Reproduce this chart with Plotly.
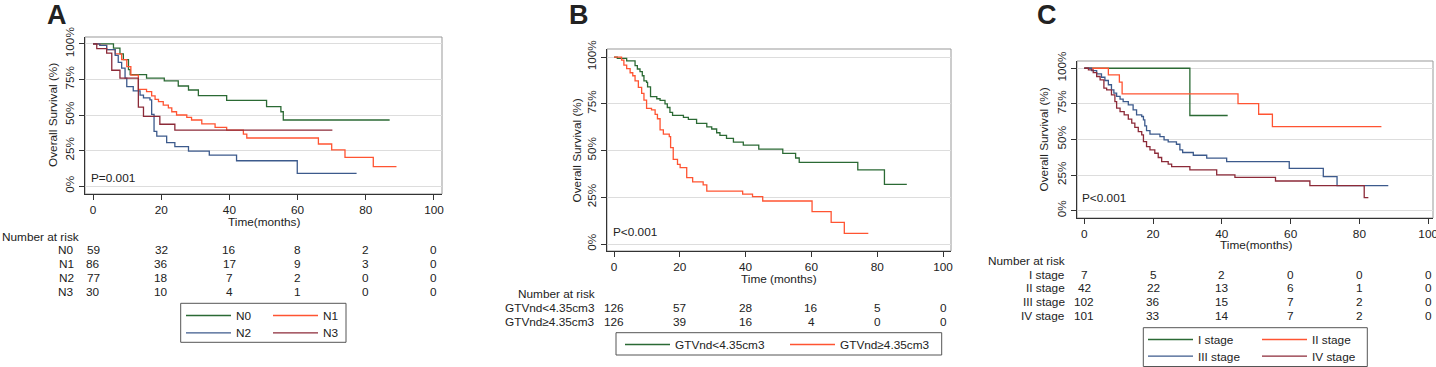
import plotly.graph_objects as go

W, H = 1436, 367
def fx(px): return px / W
def fy(py): return 1 - py / H

FONT = "Arial, Liberation Sans, sans-serif"
TXT = "#222222"
FS = 11.8
GREEN = "#2b6a34"
ORANGE = "#ff5432"
BLUE = "#3c5a8c"
DARKRED = "#8c2a38"

# ---------------- Panel A data (N stage) ----------------
A_names = ["N0", "N1", "N2", "N3"]
A_N0_t = [0, 6, 7.9, 8.9, 10.4, 10.9, 15.7, 20.9, 25, 28, 30.9, 39.2, 50.9, 55.1, 55.8, 87]
A_N0_s = [100, 97, 93, 89, 82, 78.4, 76, 74, 70.4, 67.6, 63.6, 60.3, 55.9, 52.3, 46.5, 46.5]
A_N1_t = [0, 2, 4, 6.5, 8.4, 9.9, 11.1, 13.3, 15.7, 17.2, 18.2, 19.2, 20.6, 22.1, 23.1, 24.5, 27.5,
          28.9, 31.9, 35.8, 39.2, 44.1, 45.1, 66.1, 70, 73.9, 82.2, 89]
A_N1_s = [100, 99, 96, 93, 89, 84, 78, 68, 66.4, 63.4, 61, 59.4, 57, 55, 52.3, 50, 48.4,
          46.5, 43.7, 41.3, 39.4, 36.6, 33.8, 29.6, 25.4, 20.2, 13.6, 13.6]
A_N2_t = [0, 2, 4, 6.5, 7.4, 8.4, 9.4, 9.9, 11.8, 13.8, 14.8, 16.7, 17.2, 17.9, 18.7, 21.6, 24, 28,
          34.1, 42.1, 59.9, 77.3]
A_N2_s = [100, 99, 96, 92, 87, 83, 76, 70, 67, 64, 62, 60.6, 50.5, 38.5, 35.2, 30.5, 27.7, 24.6,
          21.8, 17.8, 8.9, 8.9]
A_N3_t = [0, 1.1, 4, 5.5, 7.9, 13.3, 14.8, 19.6, 24, 70.2]
A_N3_s = [100, 96.7, 93.5, 81.5, 76, 55.6, 49, 43.5, 39.4, 39.4]
A_risk = {"N0": [59, 32, 16, 8, 2, 0], "N1": [86, 36, 17, 9, 3, 0],
          "N2": [77, 18, 7, 2, 0, 0], "N3": [30, 10, 4, 1, 0, 0]}

# ---------------- Panel B data (GTVnd) ----------------
B_names = ["GTVnd<4.35cm3", "GTVnd≥4.35cm3"]
B_lo_t = [0, 1.0, 3.85, 6.4, 7.1, 7.9, 8.6, 9.1, 9.9, 10.2, 11.1, 13, 14, 15.5, 16.2, 17, 17.8, 21.1,
          22.6, 25.1, 28.2, 29.7, 31.2, 32.2, 34.2, 36.3, 39.3, 44, 51.3, 55.2, 56.3, 74.1, 82.2, 89]
B_lo_s = [100, 99.3, 97.9, 95.4, 93.6, 92.2, 90, 87.2, 86.5, 84, 78.8, 77.7, 76.8, 75, 73, 70.4, 68.8,
          67.7, 66.7, 64.5, 62.7, 61.5, 59.5, 58.1, 56.5, 54.5, 52.9, 50.8, 48.5, 46, 43.7, 39.6, 31.9, 31.9]
B_hi_t = [0, 2.3, 3.0, 3.85, 4.9, 5.7, 6.4, 7.4, 8.4, 9.1, 9.9, 11.4, 12.5, 13.2, 14, 15, 16.8, 17.2,
          18, 19.3, 20.1, 22.1, 23.9, 27.1, 28.2, 39.1, 42.1, 45.2, 60.2, 66, 70, 77.3]
B_hi_s = [100, 98.4, 95.7, 93.8, 91.6, 90, 87.2, 83.8, 80.6, 77, 72.5, 71.7, 69.3, 67, 61, 58.8, 57.4,
          51.5, 45.3, 42.6, 40.8, 35.5, 33.2, 31.6, 28.3, 26.7, 25.3, 23, 17.3, 11.6, 5.7, 5.7]
B_risk = {"GTVnd<4.35cm3": [126, 57, 28, 16, 5, 0], "GTVnd≥4.35cm3": [126, 39, 16, 4, 0, 0]}

# ---------------- Panel C data (stage) ----------------
C_names = ["I stage", "II stage", "III stage", "IV stage"]
C_I_t = [0, 30.7, 41.7]
C_I_s = [100, 66.8, 66.8]
C_II_t = [0, 7, 10.2, 11, 44.7, 50.7, 54.7, 86.4]
C_II_s = [100, 95.4, 90.2, 82, 75.2, 67.7, 59, 59]
C_III_t = [0, 2.1, 3.6, 5, 6, 7, 7.9, 8.6, 9.4, 10.4, 11.3, 12.8, 14.2, 15.2, 16.7, 17.2, 17.6, 18.1,
           19.1, 22, 23.2, 24.4, 26.8, 27.8, 28.6, 31.7, 35.6, 41.4, 59.6, 69.5, 73.5, 88.4]
C_III_s = [100, 98.4, 96.1, 93.7, 91.4, 88.4, 84.8, 82.5, 80.2, 78.3, 76.6, 74.3, 70.8, 67.3, 66.1,
           63.7, 59.5, 56.2, 53.7, 52, 49.7, 48.3, 46.6, 42.7, 40.8, 38.9, 36.8, 34.4, 29.7, 23.8, 17.5, 17.5]
C_IV_t = [0, 1.2, 2.6, 3.6, 4.6, 5.7, 6.5, 7.9, 8.9, 9.4, 10.4, 11.6, 12.8, 13.8, 14.7, 15.7, 16.7,
          17.2, 18.1, 19.1, 20.5, 21.5, 22.5, 24.4, 25.4, 30.7, 38.5, 43.8, 55.6, 65.6, 81.4, 82.6]
C_IV_s = [100, 98.9, 97, 94.2, 91.9, 86, 84.8, 81.3, 76.6, 72, 69.6, 67.3, 64.2, 61.4, 58.4, 55.5,
          53.2, 48.5, 45, 42.7, 40.3, 37.3, 34.4, 32.6, 30.9, 28.6, 25.1, 23.3, 20.8, 17.5, 9.1, 9.1]
C_risk = {"I stage": [7, 5, 2, 0, 0, 0], "II stage": [42, 22, 13, 6, 1, 0],
          "III stage": [102, 36, 15, 7, 2, 0], "IV stage": [101, 33, 14, 7, 2, 0]}

risk_times = [0, 20, 40, 60, 80, 100]
x_ticks = [0, 20, 40, 60, 80, 100]
y_ticks = [0, 25, 50, 75, 100]
y_ticktext = ["0%", "25%", "50%", "75%", "100%"]

fig = go.Figure()

def add_curve(t, s, name, color, xa, ya, legend):
    fig.add_trace(go.Scatter(x=t, y=s, mode="lines", line=dict(color=color, width=1.3, shape="hv"),
                             name=name, xaxis=xa, yaxis=ya, legend=legend, hoverinfo="skip"))

add_curve(A_N0_t, A_N0_s, "N0", GREEN, "x", "y", "legend")
add_curve(A_N1_t, A_N1_s, "N1", ORANGE, "x", "y", "legend")
add_curve(A_N2_t, A_N2_s, "N2", BLUE, "x", "y", "legend2")
add_curve(A_N3_t, A_N3_s, "N3", DARKRED, "x", "y", "legend2")
add_curve(B_lo_t, B_lo_s, B_names[0], GREEN, "x2", "y2", "legend3")
add_curve(B_hi_t, B_hi_s, B_names[1], ORANGE, "x2", "y2", "legend3")
add_curve(C_I_t, C_I_s, "I stage", GREEN, "x3", "y3", "legend4")
add_curve(C_II_t, C_II_s, "II stage", ORANGE, "x3", "y3", "legend4")
add_curve(C_III_t, C_III_s, "III stage", BLUE, "x3", "y3", "legend5")
add_curve(C_IV_t, C_IV_s, "IV stage", DARKRED, "x3", "y3", "legend5")

# panel geometry in pixels
panels = {
    "": dict(l=85, r=442, t=37, b=194, xr=[-2.35, 102.35], yr=[-5.6, 104.9]),
    "2": dict(l=607, r=951, t=49, b=251, xr=[-2.13, 102.43], yr=[-3.74, 104.3]),
    "3": dict(l=1077, r=1433, t=61, b=218, xr=[-2.12, 101.4], yr=[-5.2, 105.1]),
}
layout_axes = {}
shapes = []
for k, p in panels.items():
    layout_axes["xaxis" + k] = dict(
        domain=[fx(p["l"]), fx(p["r"])], range=p["xr"], anchor="y" + k,
        tickvals=x_ticks, ticks="outside", ticklen=5, tickcolor="#333", showline=True,
        linecolor="#333", linewidth=1, showgrid=False, zeroline=False, ticklabeloverflow="allow",
        tickfont=dict(size=FS, color=TXT, family=FONT), fixedrange=True)
    layout_axes["yaxis" + k] = dict(
        domain=[fy(p["b"]), fy(p["t"])], range=p["yr"], anchor="x" + k,
        tickvals=y_ticks, ticktext=y_ticktext, tickangle=-90, ticks="outside", ticklen=5,
        tickcolor="#333", showline=True, linecolor="#333", linewidth=1, showgrid=True,
        gridcolor="#dddddd", gridwidth=1, zeroline=False,
        tickfont=dict(size=FS, color=TXT, family=FONT), fixedrange=True)
    shapes.append(dict(type="rect", xref=("x" + k if k else "x") + " domain",
                       yref=("y" + k if k else "y") + " domain", x0=0, x1=1, y0=0, y1=1,
                       line=dict(color="#999999", width=1), layer="below"))

ann = []
def text(x, y, s, xref="paper", yref="paper", anchor="center", size=FS, **kw):
    ann.append(dict(x=x, y=y, xref=xref, yref=yref, text=s, showarrow=False, xanchor=anchor,
                    yanchor="middle", font=dict(size=size, color=TXT, family=FONT), **kw))

# panel letters
text(fx(57), fy(15), "<b>A</b>", size=27)
text(fx(579), fy(15), "<b>B</b>", size=27)
text(fx(1047), fy(15), "<b>C</b>", size=27)

# y titles
text(fx(53), fy(115), "Overall Survival (%)", textangle=-90)
text(fx(576), fy(150.5), "Overall Survival (%)", textangle=-90)
text(fx(1043), fy(139.5), "Overall Survival (%)", textangle=-90)

# x titles
text(50, fy(222.3), "Time(months)", xref="x")
text(50, fy(278.7), "Time (months)", xref="x2")
text(50, fy(245.3), "Time(months)", xref="x3")

# p values
text(fx(89), fy(178), "P=0.001", anchor="left")
text(fx(611), fy(232.3), "P<0.001", anchor="left")
text(fx(1080), fy(198.3), "P<0.001", anchor="left")

# number at risk tables
text(fx(0), fy(236.7), "Number at risk", anchor="left")
for i, nm in enumerate(A_names):
    py = [250, 264, 278.3, 291.7][i]
    text(fx(76), fy(py), nm, anchor="right")
    for tt, v in zip(risk_times, A_risk[nm]):
        text(tt, fy(py), str(v), xref="x")

text(fx(597), fy(294), "Number at risk", anchor="right")
for i, nm in enumerate(B_names):
    py = [307.7, 321.7][i]
    text(fx(597), fy(py), nm, anchor="right")
    for tt, v in zip(risk_times, B_risk[nm]):
        text(tt, fy(py), str(v), xref="x2")

text(fx(1067), fy(261), "Number at risk", anchor="right")
for i, nm in enumerate(C_names):
    py = [274.7, 288.3, 302.3, 316][i]
    text(fx(1067), fy(py), nm, anchor="right")
    for tt, v in zip(risk_times, C_risk[nm]):
        text(tt, fy(py), str(v), xref="x3")

# legend boxes
for (l, r, t, b) in [(180.7, 346, 303.3, 342.3), (616, 941.7, 332.7, 355), (1143.3, 1367.3, 327.7, 366.5)]:
    shapes.append(dict(type="rect", xref="paper", yref="paper", x0=fx(l), x1=fx(r), y0=fy(b), y1=fy(t),
                       line=dict(color="#555555", width=1), layer="above"))

def leg(xpx, ypx, ew):
    return dict(x=fx(xpx), y=fy(ypx), xanchor="left", yanchor="top", orientation="h",
                bgcolor="rgba(0,0,0,0)", borderwidth=0, itemwidth=45, entrywidth=ew,
                entrywidthmode="pixels", font=dict(size=FS, color=TXT, family=FONT),
                itemclick=False, itemdoubleclick=False)

fig.update_layout(
    width=W, height=H, margin=dict(l=0, r=0, t=0, b=0, pad=0, autoexpand=False),
    paper_bgcolor="white", plot_bgcolor="white",
    font=dict(family=FONT, size=FS, color=TXT),
    shapes=shapes, annotations=ann,
    legend=leg(181, 301, 27),
    legend2=leg(181, 318.3, 27),
    legend3=leg(620, 330, 105),
    legend4=leg(1143, 325, 54),
    legend5=leg(1143, 341.7, 54),
    **layout_axes,
)

fig.write_html("out.html", config={"displayModeBar": False, "staticPlot": True},
               post_script="document.body.style.margin='0';document.body.style.overflow='hidden';")
